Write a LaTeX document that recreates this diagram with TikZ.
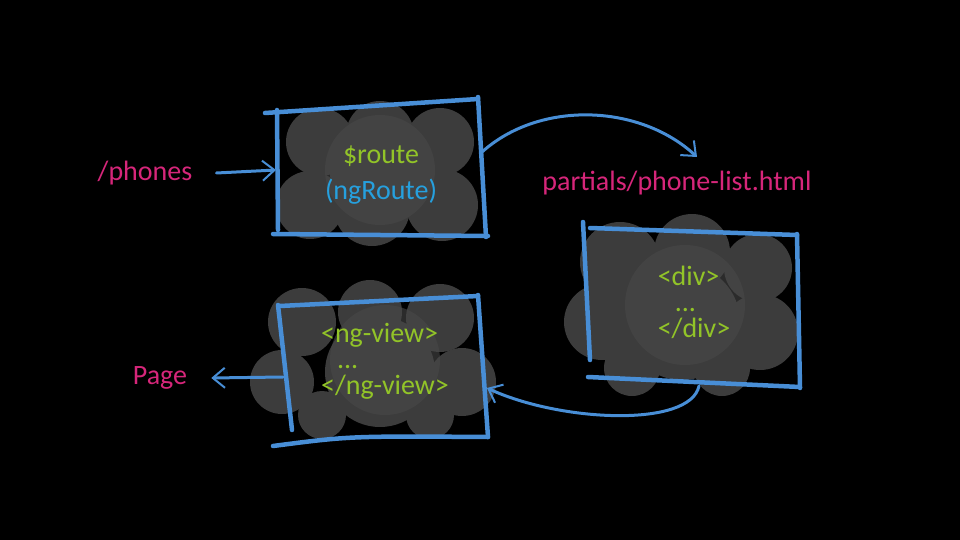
\documentclass[tikz,border=0pt]{standalone}
\usepackage{fontspec}
\setmainfont{Carlito}
\usetikzlibrary{positioning}
\usetikzlibrary{arrows.meta}
\definecolor{sketchblue}{RGB}{72,142,214}
\definecolor{pathpink}{RGB}{214,38,122}
\definecolor{codegreen}{RGB}{146,196,40}
\definecolor{modblue}{RGB}{38,160,222}
\definecolor{clouddark}{RGB}{60,60,60}
\definecolor{cloudlight}{RGB}{72,72,72}

\begin{document}
\begin{tikzpicture}[x=1pt,y=-1pt,
		edge/.style={sketchblue, line width=4.5pt, line cap=round},
		link/.style={sketchblue, line width=3pt, line cap=round, -{Straight Barb[length=12pt,width=20pt,line width=2pt]}},
		txt/.style={font=\fontsize{28}{26}\selectfont, inner sep=0pt},
	]
		\fill[black] (0,0) rectangle (960,540);
		\useasboundingbox (0,0) rectangle (960,540);
		
		% clouds
		\foreach \cx/\cy/\r in {320/142/34, 380/135/34, 440/142/34, 310/205/34, 372/208/38, 442/205/36, 380/172/50}
			\fill[clouddark] (\cx,\cy) circle (\r);
		\foreach \cx/\cy/\r in {620/262/40, 692/252/38, 758/268/34, 602/322/38, 682/322/58, 760/332/38, 632/368/28, 722/368/28}
			\fill[clouddark] (\cx,\cy) circle (\r);
		\foreach \cx/\cy/\r in {302/322/34, 370/312/32, 440/318/34, 282/382/32, 380/372/55, 462/382/34, 322/415/24, 430/415/24}
			\fill[clouddark] (\cx,\cy) circle (\r);
		\foreach \cx/\cy/\r in {380/170/55, 685/305/60, 385/360/55}
			\fill[cloudlight, opacity=0.6] (\cx,\cy) circle (\r);
		
		% boxes
		\draw[edge] (265,113) -- (478,99);
		\draw[edge] (277,110) -- (278,230);
		\draw[edge] (478,97) -- (486,237);
		\draw[edge] (273,234) -- (488,236);
		
		\draw[edge] (590,228) -- (797,235);
		\draw[edge] (583,222) -- (590,360);
		\draw[edge] (797,234) -- (800,388);
		\draw[edge] (588,377) -- (800,387);
		
		\draw[edge] (280,306) -- (478,296);
		\draw[edge] (278,305) -- (292,430);
		\draw[edge] (478,295) -- (488,437);
		\draw[edge] (273,446) .. controls (350,436) .. (488,437);
		
		% texts
		\node[txt, pathpink] (phones) at (145,173) {/phones};
		\node[txt, codegreen] (route) at (381,156) {\$route};
		\node[txt, modblue, below=12pt of route] (ngroute) {(ngRoute)};
		\node[txt, pathpink] (partial) at (677,183) {partials/phone-list.html};
		\node[txt, codegreen, align=left] (div) at (694,302) {<div>\\\hspace{17pt}...\\</div>};
		\node[txt, codegreen, align=left] (view) at (385,361) {<ng-view>\\\hspace{16pt}...\\</ng-view>};
		\node[txt, pathpink] (page) at (160,378) {Page};
		
		% connectors
		\coordinate (route-w) at (276,170);
		\coordinate (route-e) at (482,152);
		\coordinate (div-n) at (697,157);
		\coordinate (div-s) at (699,386);
		\coordinate (view-e) at (487,388);
		\coordinate (view-w) at (283,377);
		\draw[link] ([xshift=24pt]phones.east) -- (route-w);
		\draw[link] (route-e) .. controls (540,100) and (640,104) .. (div-n);
		\draw[link] (div-s) .. controls (690,428) and (560,422) .. (view-e);
		\draw[link] (view-w) -- ([xshift=24pt]page.east);
	\end{tikzpicture}
\end{document}
